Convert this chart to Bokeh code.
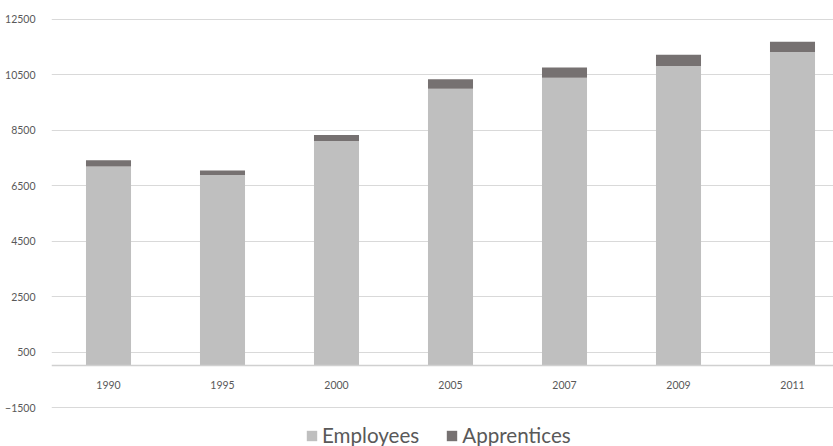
from bokeh.plotting import figure
from bokeh.models import FixedTicker, Legend, LegendItem, ColumnDataSource, Range1d
from bokeh.embed import file_html
from bokeh.resources import INLINE

years = ["1990", "1995", "2000", "2005", "2007", "2009", "2011"]
employees = [7200, 6890, 8115, 10005, 10400, 10820, 11325]
apprentices = [220, 160, 215, 335, 370, 410, 375]
y_ticks = [-1500, 500, 2500, 4500, 6500, 8500, 10500, 12500]

FONT = "Lato"
LABEL = "#595959"

xs = list(range(len(years)))
src = ColumnDataSource(dict(x=xs, Employees=employees, Apprentices=apprentices))

W, H = 833, 446
LEFT, TOP = 51, 18
PX_PER_CAT = 114.0
PX_PER_UNIT = 0.027715
frame_w = W - LEFT
frame_h = H - TOP
y_top = 12536
y_bottom = y_top - frame_h / PX_PER_UNIT

p = figure(width=W, height=H, output_backend="svg", toolbar_location=None,
           x_range=Range1d(-0.5, -0.5 + frame_w / PX_PER_CAT),
           y_range=Range1d(y_bottom, y_top),
           min_border_left=LEFT, min_border_right=0, min_border_top=TOP, min_border_bottom=0)
p.outline_line_color = None
p.background_fill_color = "white"
p.border_fill_color = "white"

rs = p.vbar_stack(["Employees", "Apprentices"], x="x", width=0.395, source=src,
                  color=["#bfbfbf", "#767171"], line_color=None)

p.xgrid.visible = False
p.ygrid.ticker = FixedTicker(ticks=y_ticks)
p.ygrid.grid_line_color = "#d9d9d9"
p.ygrid.grid_line_width = 1

ya = p.yaxis[0]
ya.ticker = FixedTicker(ticks=y_ticks)
ya.axis_line_color = None
ya.major_tick_line_color = None
ya.minor_tick_line_color = None
ya.major_label_standoff = 10
ya.major_label_text_font = FONT
ya.major_label_text_font_size = "10.5px"
ya.major_label_text_color = LABEL

xa = p.xaxis[0]
xa.fixed_location = 0
xa.ticker = FixedTicker(ticks=xs)
xa.major_label_overrides = {i: y for i, y in zip(xs, years)}
xa.axis_line_color = "#d0d0d0"
xa.axis_line_width = 1.5
xa.major_tick_line_color = None
xa.minor_tick_line_color = None
xa.major_label_standoff = 9
xa.major_label_text_font = FONT
xa.major_label_text_font_size = "10.5px"
xa.major_label_text_color = LABEL

legend = Legend(items=[LegendItem(label="Employees", renderers=[rs[0]]),
                       LegendItem(label="Apprentices", renderers=[rs[1]])],
                orientation="horizontal", location=(254, -1),
                margin=0, padding=0, spacing=26, label_standoff=4,
                glyph_width=13, glyph_height=13, label_height=22,
                border_line_color=None, background_fill_alpha=0,
                label_text_font=FONT, label_text_font_size="20.6px",
                label_text_color=LABEL)
p.add_layout(legend, "center")

open("out.html", "w").write(file_html(p, INLINE))
